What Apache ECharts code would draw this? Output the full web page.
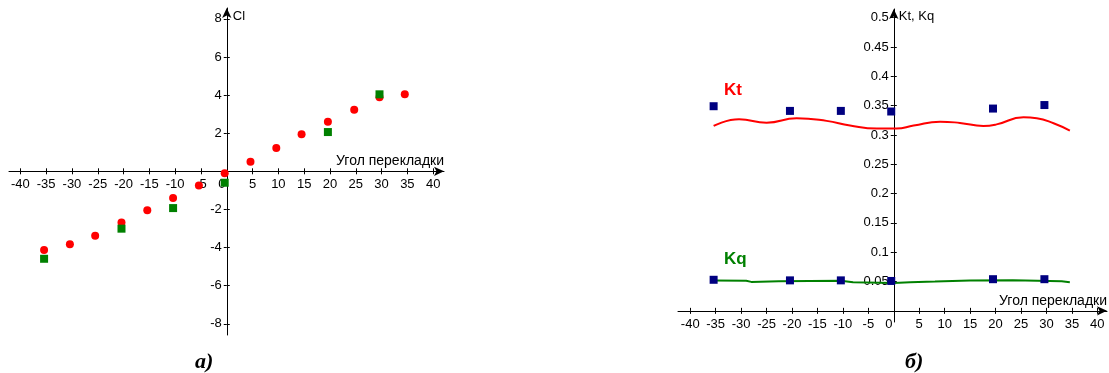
<!DOCTYPE html>
<html>
<head>
<meta charset="utf-8">
<script src="https://cdn.jsdelivr.net/npm/echarts@6/dist/echarts.min.js"></script>
<style>
  html, body { margin: 0; padding: 0; background: #fff; }
  #chart { width: 1109px; height: 373px; }
</style>
</head>
<body>
<div id="chart"></div>
<script>
// ---- данные: левый график (Cl) ----
const clCalcAngles = [-35.4, -30.4, -25.5, -20.4, -15.4, -10.4, -5.4, -0.4, 4.6, 9.6, 14.5, 19.6, 24.7, 29.6, 34.5]
const clCalc = [-4.13, -3.83, -3.38, -2.68, -2.05, -1.40, -0.75, -0.10, 0.50, 1.22, 1.94, 2.60, 3.23, 3.88, 4.04]
const clExpAngles = [-35.4, -20.4, -10.4, -0.4, 19.6, 29.6]
const clExp = [-4.59, -3.01, -1.93, -0.60, 2.06, 4.04]

// ---- данные: правый график (Kt, Kq) ----
const kExpAngles = [-35.4, -20.4, -10.4, -0.5, 19.5, 29.6]
const ktExp = [0.349, 0.341, 0.341, 0.340, 0.345, 0.351]
const kqExp = [0.053, 0.052, 0.052, 0.051, 0.054, 0.054]
const ktCurveAngles = [-35.4, -30.4, -25.0, -19.1, -13.2, -8.6, -3.3, 0.5, 3.9, 9.1, 13.0, 17.6, 20.2, 25.5, 28.1, 31.4, 34.6]
const ktCurve = [0.3154, 0.3268, 0.3210, 0.3285, 0.3240, 0.3160, 0.3108, 0.3108, 0.3160, 0.3227, 0.3205, 0.3154, 0.3180, 0.3300, 0.3285, 0.3200, 0.3074]
const kqCurveAngles = [-35.4, -29.0, -28.0, -22.6, -10.4, -8.0, 0.0, 3.2, 8.1, 15.0, 23.4, 33.0, 34.6]
const kqCurve = [0.0517, 0.0515, 0.0494, 0.0506, 0.0512, 0.0486, 0.0477, 0.0489, 0.0500, 0.0517, 0.0523, 0.0505, 0.0489]

// ---- подписи делений ----
const angleTicks = [-40, -35, -30, -25, -20, -15, -10, -5, 0, 5, 10, 15, 20, 25, 30, 35, 40]
const clTicks = [-8, -6, -4, -2, 0, 2, 4, 6, 8]
const clLabels = [-8, -6, -4, -2, 2, 4, 6, 8]
const kTicks = [0, 0.05, 0.1, 0.15, 0.2, 0.25, 0.3, 0.35, 0.4, 0.45, 0.5]
const kLabels = [0.05, 0.1, 0.15, 0.2, 0.25, 0.3, 0.35, 0.4, 0.45, 0.5]

const FONT = 'Liberation Sans, Arial, sans-serif'
const zip = (xs, ys) => xs.map((x, i) => [x, ys[i]])

// размеры сеток и пределы осей
const g0 = { left: 9, top: 8, width: 435, height: 327 }
const g1 = { left: 678, top: 9, width: 429, height: 313 }
const x0 = [-42.2, 42.1], y0 = [-8.59, 8.57]
const x1 = [-42.4, 41.9], y1 = [-0.019, 0.5148]

// сдвиг оси внутрь сетки, чтобы она проходила через ноль другой оси
const zeroShift = (range, size) => -size * (0 - range[0]) / (range[1] - range[0])

const chart = echarts.init(document.getElementById('chart'))

// основная ось: линия со стрелкой, подписи, засечки наружу
const mainAxis = (extra, name, nameStyle, labelVals, tickVals, fmt, margin) => Object.assign({
  type: 'value',
  name: name,
  nameLocation: 'end',
  nameTextStyle: Object.assign({ fontFamily: FONT, fontSize: 13, color: '#000' }, nameStyle),
  splitLine: { show: false },
  axisLine: {
    show: true, onZero: false,
    symbol: ['none', 'arrow'], symbolSize: [7, 10],
    lineStyle: { color: '#000', width: 1 }
  },
  axisTick: { show: true, length: 3, customValues: tickVals, lineStyle: { color: '#000' } },
  axisLabel: {
    customValues: labelVals, margin: margin,
    fontFamily: FONT, fontSize: 13, color: '#000',
    formatter: fmt,
    rich: { z: { fontFamily: FONT, fontSize: 13, color: '#000', padding: [0, 10, 0, 0] } }
  }
}, extra)

// вспомогательная ось: только засечки внутрь (чтобы засечки пересекали линию)
const tickAxis = (extra, tickVals) => Object.assign({
  type: 'value',
  splitLine: { show: false },
  axisLine: { show: false, onZero: false },
  axisTick: { show: true, inside: true, length: 3, customValues: tickVals, lineStyle: { color: '#000' } },
  axisLabel: { show: false }
}, extra)

const angleFmt = v => (v === 0 ? '{z|0}' : String(v))
const kFmt = v => String(+(+v).toFixed(2))

const xOpt0 = { gridIndex: 0, min: x0[0], max: x0[1], position: 'bottom', offset: zeroShift(y0, g0.height) }
const yOpt0 = { gridIndex: 0, min: y0[0], max: y0[1], position: 'left', offset: zeroShift(x0, g0.width) }
const xOpt1 = { gridIndex: 1, min: x1[0], max: x1[1], position: 'bottom', offset: zeroShift(y1, g1.height) }
const yOpt1 = { gridIndex: 1, min: y1[0], max: y1[1], position: 'left', offset: zeroShift(x1, g1.width) }

const xNameStyle = { fontSize: 14, align: 'right', verticalAlign: 'bottom', padding: [0, 0, 3, 0] }

chart.setOption({
  animation: false,
  grid: [
    Object.assign({ outerBoundsMode: 'none' }, g0),
    Object.assign({ outerBoundsMode: 'none' }, g1)
  ],
  xAxis: [
    mainAxis(Object.assign({ nameGap: 0 }, xOpt0), 'Угол перекладки', xNameStyle, angleTicks, angleTicks, angleFmt, 7),
    tickAxis(Object.assign({}, xOpt0), angleTicks),
    mainAxis(Object.assign({ nameGap: 0 }, xOpt1), 'Угол перекладки', xNameStyle, angleTicks, angleTicks, angleFmt, 7),
    tickAxis(Object.assign({}, xOpt1), angleTicks)
  ],
  yAxis: [
    mainAxis(Object.assign({ nameGap: -8 }, yOpt0), 'Cl',
      { align: 'left', verticalAlign: 'middle', padding: [0, 0, 0, 6] }, clLabels, clTicks, v => String(v), 5),
    tickAxis(Object.assign({}, yOpt0), clTicks),
    mainAxis(Object.assign({ nameGap: -7 }, yOpt1), 'Kt, Kq',
      { align: 'left', verticalAlign: 'middle', padding: [0, 0, 0, 5] }, kLabels, kTicks, kFmt, 5),
    tickAxis(Object.assign({}, yOpt1), kTicks)
  ],
  series: [
    {
      name: 'Cl расчёт', type: 'scatter', xAxisIndex: 0, yAxisIndex: 0,
      symbol: 'circle', symbolSize: 8,
      itemStyle: { color: '#ff0000', opacity: 1 },
      data: zip(clCalcAngles, clCalc)
    },
    {
      name: 'Cl эксперимент', type: 'scatter', xAxisIndex: 0, yAxisIndex: 0,
      symbol: 'rect', symbolSize: 8,
      itemStyle: { color: '#008000', opacity: 1 },
      data: zip(clExpAngles, clExp)
    },
    {
      name: 'Kt', type: 'line', xAxisIndex: 2, yAxisIndex: 2,
      smooth: 0.5, showSymbol: false,
      lineStyle: { color: '#ff0000', width: 2 },
      data: zip(ktCurveAngles, ktCurve)
    },
    {
      name: 'Kq', type: 'line', xAxisIndex: 2, yAxisIndex: 2,
      smooth: false, showSymbol: false,
      lineStyle: { color: '#008000', width: 2 },
      data: zip(kqCurveAngles, kqCurve)
    },
    {
      name: 'Kt эксп.', type: 'scatter', xAxisIndex: 2, yAxisIndex: 2,
      symbol: 'rect', symbolSize: 8, z: 5,
      itemStyle: { color: '#000080', opacity: 1 },
      data: zip(kExpAngles, ktExp)
    },
    {
      name: 'Kq эксп.', type: 'scatter', xAxisIndex: 2, yAxisIndex: 2,
      symbol: 'rect', symbolSize: 8, z: 5,
      itemStyle: { color: '#000080', opacity: 1 },
      data: zip(kExpAngles, kqExp)
    }
  ],
  graphic: [
    { type: 'text', left: 724, top: 82, style: { text: 'Kt', fill: '#ff0000', font: 'bold 17px ' + FONT } },
    { type: 'text', left: 724, top: 251, style: { text: 'Kq', fill: '#008000', font: 'bold 17px ' + FONT } },
    { type: 'text', left: 195, top: 351, style: { text: 'а)', fill: '#000', font: 'italic bold 22px Liberation Serif, Times New Roman, serif' } },
    { type: 'text', left: 905, top: 351, style: { text: 'б)', fill: '#000', font: 'italic bold 22px Liberation Serif, Times New Roman, serif' } }
  ]
})
</script>
</body>
</html>
